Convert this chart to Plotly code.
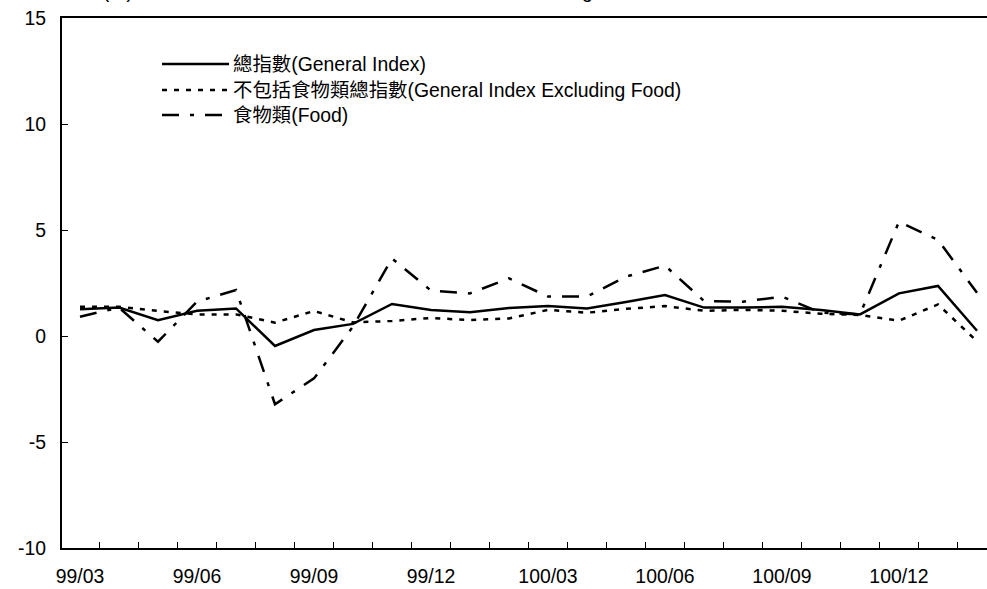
import plotly.graph_objects as go

# ---------------- data ----------------
months = ["99/03", "99/04", "99/05", "99/06", "99/07", "99/08", "99/09", "99/10",
          "99/11", "99/12", "100/01", "100/02", "100/03", "100/04", "100/05", "100/06",
          "100/07", "100/08", "100/09", "100/10", "100/11", "100/12", "101/01", "101/02"]

general_index = [1.26, 1.34, 0.75, 1.19, 1.30, -0.47, 0.28, 0.57, 1.51, 1.23, 1.12, 1.32,
                 1.41, 1.30, 1.60, 1.93, 1.34, 1.34, 1.38, 1.23, 1.02, 2.01, 2.36, 0.25]
excl_food = [1.38, 1.38, 1.18, 1.02, 1.02, 0.63, 1.18, 0.64, 0.71, 0.85, 0.75, 0.83,
             1.23, 1.10, 1.28, 1.41, 1.19, 1.23, 1.19, 1.05, 0.99, 0.72, 1.49, -0.25]
food = [0.91, 1.34, -0.27, 1.62, 2.17, -3.22, -2.00, 0.44, 3.66, 2.14, 2.01, 2.72,
        1.86, 1.86, 2.80, 3.32, 1.65, 1.62, 1.86, 1.10, 1.02, 5.39, 4.53, 2.04]

series_names = ["總指數(General Index)",
                "不包括食物類總指數(General Index Excluding Food)",
                "食物類(Food)"]
unit_label = "單位(%)"
top_label = "Annual Rate of Change"
y_ticks = [-10, -5, 0, 5, 10, 15]
y_tick_text = ["-10", "-5", "0", "5", "10", "15"]

# ---------------- layout constants ----------------
W, H = 987, 589
L, T, R, B = 62, 18, 0, 41
PW, PH = W - L - R, H - T - B
FONT = "Liberation Sans, Arial, 'Noto Sans CJK TC', sans-serif"
FS = 19.4

def px_x(px):
    return (px - L) / PW

def px_y(py):
    return (H - B - py) / PH

xs = list(range(len(months)))
dashes = ["solid", "5px,7px", "17px,11px,4px,11px"]
values = [general_index, excl_food, food]

fig = go.Figure()
for name, vals, dash in zip(series_names, values, dashes):
    fig.add_trace(go.Scatter(x=xs, y=vals, mode="lines", name=name,
                             line=dict(color="black", width=2.5, dash=dash),
                             showlegend=False))

# manual legend
shapes = []
annotations = []
legend_rows = [64, 90, 115]
for row_y, name, dash in zip(legend_rows, series_names, dashes):
    shapes.append(dict(type="line", xref="paper", yref="paper",
                       x0=px_x(162), x1=px_x(229), y0=px_y(row_y), y1=px_y(row_y),
                       line=dict(color="black", width=2.5, dash=dash)))
    annotations.append(dict(text=name, xref="paper", yref="paper",
                            x=px_x(231), y=px_y(row_y), xanchor="left", yanchor="middle",
                            showarrow=False, font=dict(size=FS, color="black", family=FONT)))

# clipped header texts at very top (cut off in the original too)
annotations.append(dict(text=unit_label, xref="paper", yref="paper",
                        x=px_x(62), y=px_y(-9), xanchor="left", yanchor="middle",
                        showarrow=False, font=dict(size=FS, color="black", family=FONT)))
annotations.append(dict(text=top_label, xref="paper", yref="paper",
                        x=px_x(606), y=px_y(-9), xanchor="right", yanchor="middle",
                        showarrow=False, font=dict(size=FS, color="black", family=FONT)))

fig.update_layout(
    width=W, height=H,
    margin=dict(l=L, r=R, t=T, b=B, pad=0, autoexpand=False),
    paper_bgcolor="white", plot_bgcolor="white",
    font=dict(family=FONT, size=FS, color="black"),
    shapes=shapes, annotations=annotations,
    showlegend=False,
)
fig.update_xaxes(
    automargin=False,
    range=[-18 / 39, 23 + 10 / 39],
    tickmode="array", tickvals=xs[::3], ticktext=months[::3],
    ticks="", showgrid=False, zeroline=False,
    showline=True, linecolor="black", linewidth=2, mirror=True,
    ticklabelstandoff=10,
    minor=dict(ticks="inside", tick0=-0.5, dtick=1, ticklen=6, tickcolor="black",
               tickwidth=1, showgrid=False),
)
fig.update_yaxes(
    automargin=False,
    range=[-10, 15], tickmode="array", tickvals=y_ticks, ticktext=y_tick_text,
    ticks="inside", ticklen=6, tickcolor="black", tickwidth=1,
    showgrid=False, zeroline=False,
    showline=True, linecolor="black", linewidth=2, mirror=False,
    ticklabelstandoff=10,
)

# remove the default 8px page margin so the figure fills the window exactly
fig.write_html("out.html", config={"displayModeBar": False},
               post_script="document.body.style.margin='0';")
